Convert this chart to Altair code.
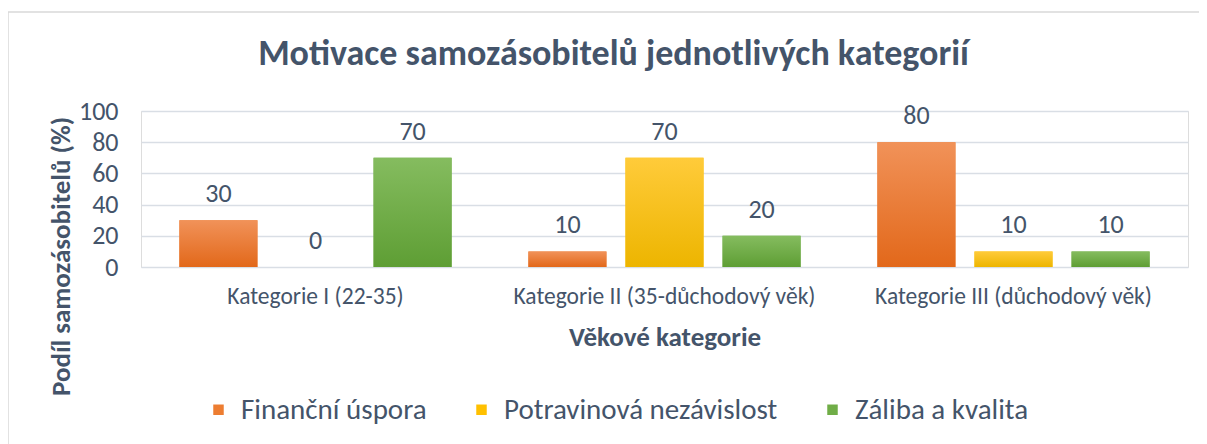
import altair as alt
import pandas as pd

categories = ["Kategorie I (22-35)", "Kategorie II (35-důchodový věk)", "Kategorie III (důchodový věk)"]
series = ["Finanční úspora", "Potravinová nezávislost", "Záliba a kvalita"]
financni = [30, 10, 80]
potravinova = [0, 70, 10]
zaliba = [70, 20, 10]

solid = ["#ED7D31", "#FFC000", "#70AD47"]
grad_stops = [
    ("#F19259", "#E2681A"),
    ("#FFCB3A", "#EDB500"),
    ("#85BC5F", "#5E9E34"),
]

rows = []
for i, c in enumerate(categories):
    for s, vals in zip(series, [financni, potravinova, zaliba]):
        rows.append({"kategorie": c, "motivace": s, "hodnota": vals[i]})
df = pd.DataFrame(rows)

FONT = "Carlito, Lato, sans-serif"
TXT = "#44546A"

x_enc = alt.X("kategorie:N", sort=categories,
              scale=alt.Scale(paddingInner=0.22, paddingOuter=0.11),
              axis=alt.Axis(title="Věkové kategorie", labelAngle=0, labelFontSize=23.5,
                            labelColor=TXT, labelFont=FONT, labelPadding=17, labelLimit=0,
                            ticks=False, domain=False,
                            titleFont=FONT, titleFontSize=27, titleFontWeight="bold",
                            titleColor=TXT, titleY=70, titleBaseline="middle"))
xo_enc = alt.XOffset("motivace:N", sort=series,
                     scale=alt.Scale(domain=series, paddingInner=0.196, paddingOuter=0))
y_enc = alt.Y("hodnota:Q", scale=alt.Scale(domain=[0, 100]),
              axis=alt.Axis(title="Podíl samozásobitelů (%)", values=[0, 20, 40, 60, 80, 100],
                            labelFontSize=26, labelColor=TXT, labelFont=FONT,
                            labelPadding=23, ticks=False, tickSize=0, domain=False,
                            gridColor="#D9DEE5", gridWidth=1.5,
                            titleFont=FONT, titleFontSize=27, titleFontWeight="bold",
                            titleColor=TXT, titleX=-80, titleY=145,
                            titleAlign="center", titleBaseline="middle", titleAngle=-90))

base = alt.Chart(df)

bars = base.mark_bar().encode(
    x=x_enc, xOffset=xo_enc, y=y_enc,
    color=alt.Color("motivace:N", sort=series,
                    scale=alt.Scale(domain=series, range=solid),
                    legend=alt.Legend(title=None, orient="none", direction="horizontal",
                                      legendX=63, legendY=284, padding=0,
                                      symbolType="square", symbolSize=110,
                                      symbolStrokeWidth=0, labelFontSize=29,
                                      labelFont=FONT, labelColor=TXT, labelLimit=0,
                                      labelOffset=8, columnPadding=40)),
)

grad_layers = []
for s, (top, bot) in zip(series, grad_stops):
    g = alt.Gradient(gradient="linear", x1=0, x2=0, y1=0, y2=1,
                     stops=[alt.GradientStop(color=top, offset=0),
                            alt.GradientStop(color=bot, offset=1)])
    grad_layers.append(
        base.transform_filter(alt.datum.motivace == s)
        .mark_bar(color=g)
        .encode(x=x_enc, xOffset=xo_enc, y=y_enc)
    )

labels = base.mark_text(baseline="middle", dy=-26, fontSize=26, font=FONT, color=TXT).encode(
    x=x_enc, xOffset=xo_enc, y=y_enc, text="hodnota:Q"
)

frame = alt.Chart(pd.DataFrame({"a": [0]})).mark_rect(
    fill=None, stroke="#D9D9D9", strokeWidth=1.5
).encode(x=alt.value(-133), x2=alt.value(1070), y=alt.value(-99), y2=alt.value(340))

chart = alt.layer(frame, bars, *grad_layers, labels).properties(
    width=1047, height=156,
    autosize=alt.AutoSizeParams(type="none"),
    padding={"left": 133, "top": 103, "right": 11, "bottom": 177},
    title=alt.TitleParams("Motivace samozásobitelů jednotlivých kategorií",
                          font=FONT, fontSize=36, fontWeight="bold", color=TXT,
                          anchor="middle", frame="bounds", dx=4, offset=-62),
).configure_view(stroke=None).configure(background="white")

chart.save("out.html", embed_options={"renderer": "svg", "actions": False})
